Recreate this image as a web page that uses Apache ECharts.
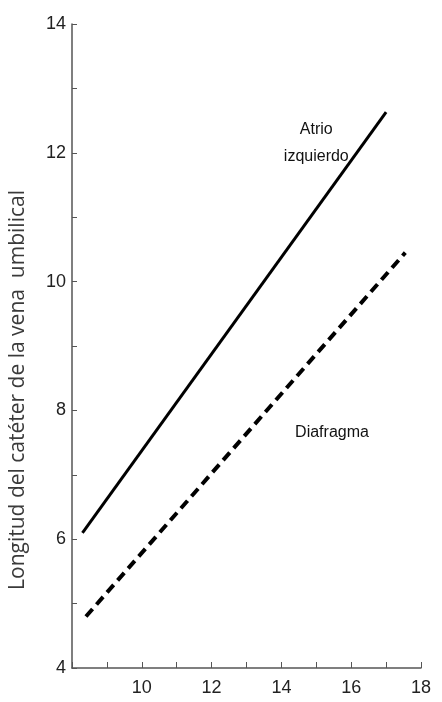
<!DOCTYPE html>
<html><head><meta charset="utf-8">
<script src="https://cdn.jsdelivr.net/npm/echarts@6/dist/echarts.min.js"></script>
<style>html,body{margin:0;padding:0;background:#fff}#c{width:442px;height:702px}</style>
</head><body><div id="c"></div>
<script>
const yTitle = 'Longitud del catéter de la vena  umbilical';
const atrioLabel = 'Atrio\nizquierdo';
const diafLabel = 'Diafragma';
const atrioLine = [[8.3, 6.1], [17.0, 12.63]];
const diafLine = [[8.4, 4.8], [17.55, 10.45]];
const atrioLabelPos = [15.0, 12.15];
const diafLabelPos = [15.45, 7.66];
const xTicks = [10, 12, 14, 16, 18];
const yTicks = [4, 6, 8, 10, 12, 14];

const tickFont = "'Liberation Sans Narrow','Arial Narrow','Liberation Sans',sans-serif";
const chart = echarts.init(document.getElementById('c'));
chart.setOption({
  animation: false,
  backgroundColor: '#fff',
  grid: {left: 72, top: 24, right: 21, bottom: 34},
  xAxis: {
    type: 'value', min: 8, max: 18, interval: 1,
    splitLine: {show: false},
    axisLine: {lineStyle: {color: '#555', width: 1.5}},
    axisTick: {inside: true, length: 6, lineStyle: {color: '#555'}},
    axisLabel: {color: '#222', fontSize: 18, fontFamily: tickFont, margin: 11,
      formatter: v => xTicks.includes(v) ? String(v) : ''}
  },
  yAxis: {
    type: 'value', min: 4, max: 14, interval: 1,
    splitLine: {show: false},
    axisLine: {show: true, lineStyle: {color: '#555', width: 1.5}},
    axisTick: {show: true, inside: true, length: 5, lineStyle: {color: '#555'}},
    axisLabel: {color: '#222', fontSize: 18, fontFamily: tickFont, margin: 6,
      formatter: v => yTicks.includes(v) ? String(v) : ''}
  },
  series: [
    {type: 'line', data: atrioLine, symbol: 'none',
     lineStyle: {color: '#000', width: 3}},
    {type: 'line', data: diafLine, symbol: 'none',
     lineStyle: {color: '#000', width: 4, type: [10, 6]}}
  ]
});
const p1 = chart.convertToPixel({gridIndex: 0}, atrioLabelPos);
const p2 = chart.convertToPixel({gridIndex: 0}, diafLabelPos);
const annFont = "'Liberation Sans Narrow','Arial Narrow','Liberation Sans',sans-serif";
chart.setOption({
  graphic: [
    {type: 'text', x: p1[0], y: p1[1], style: {text: atrioLabel, font: '16px ' + annFont,
      fill: '#111', textAlign: 'center', textVerticalAlign: 'middle', lineHeight: 27}},
    {type: 'text', x: p2[0], y: p2[1], style: {text: diafLabel, font: '16px ' + annFont,
      fill: '#111', textAlign: 'center', textVerticalAlign: 'middle'}},
    {type: 'text', x: 18, y: 390, rotation: Math.PI / 2,
      style: {text: yTitle, font: "21px 'Open Sans','Liberation Sans',sans-serif",
      fill: '#3a3a3a', textAlign: 'center', textVerticalAlign: 'middle'}}
  ]
});
</script></body></html>
